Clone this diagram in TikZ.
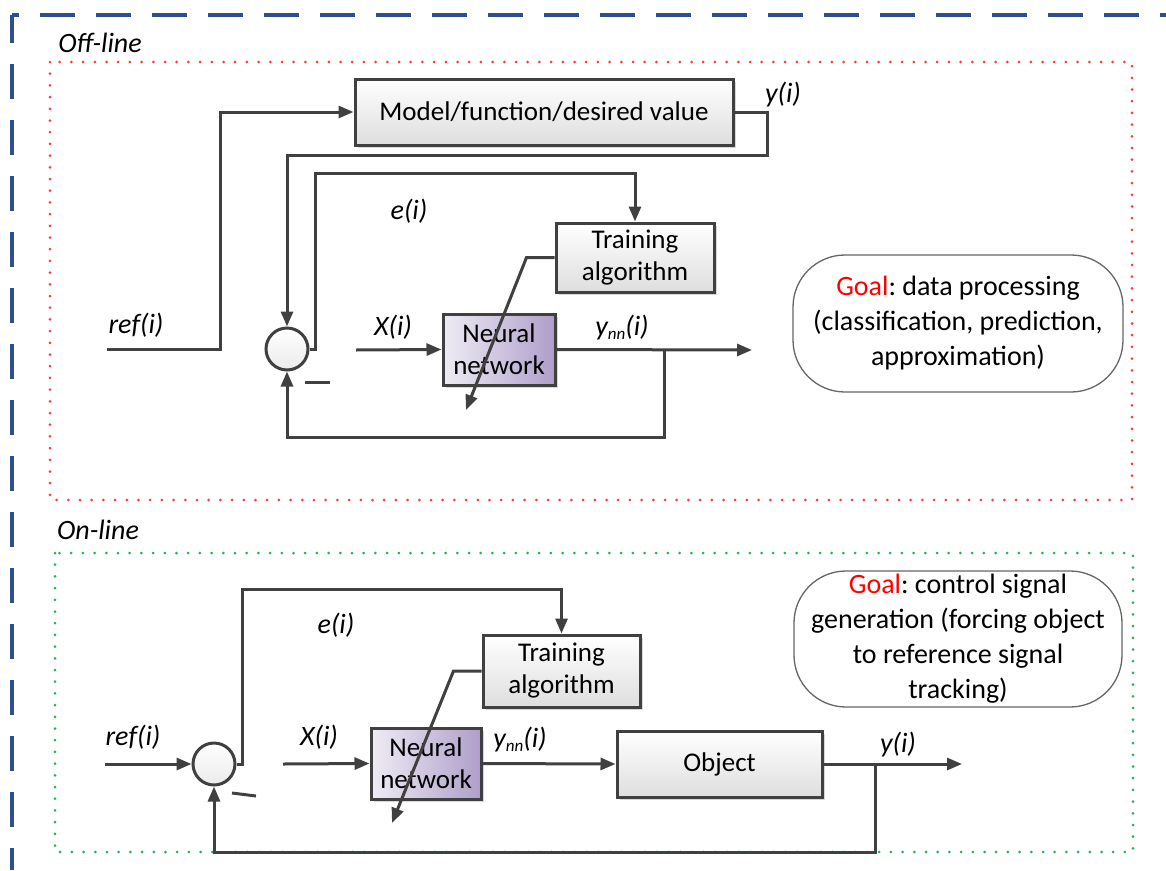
\documentclass[tikz,border=0pt]{standalone}
\usepackage{fontspec}
\setmainfont{Carlito}
\usetikzlibrary{arrows.meta,shadows}
\definecolor{ln}{RGB}{64,64,64}
\definecolor{bordblue}{RGB}{47,78,140}
\definecolor{nnpurple}{RGB}{175,158,202}
\definecolor{nnlight}{RGB}{238,236,244}
\definecolor{dotred}{RGB}{250,60,60}
\definecolor{dotgreen}{RGB}{40,175,95}
\definecolor{boxgray}{RGB}{222,222,222}
\begin{document}
\begin{tikzpicture}[x=1pt,y=-1pt,
  conn/.style={draw=ln,line width=3pt},
  arr/.style={conn,-{Triangle[length=15pt,width=12pt]}},
  blkbase/.style={draw=ln,line width=3pt,align=center,inner sep=0pt,
    drop shadow={shadow xshift=3pt,shadow yshift=-3pt,fill=black!30,opacity=0.5},
    font=\fontsize{27}{32}\selectfont},
  blk/.style={blkbase,top color=white,bottom color=boxgray},
  nnblk/.style={blkbase,left color=nnlight,right color=nnpurple},
  sum/.style={circle,draw=ln,line width=3pt,top color=white,bottom color=black!8,minimum size=42pt,inner sep=0pt},
  goal/.style={draw=black!60,line width=1.3pt,fill=white,rounded corners=52pt,align=center,inner sep=0pt,
    font=\fontsize{28}{35}\selectfont\frenchspacing},
  lbl/.style={font=\fontsize{28}{32}\selectfont\itshape,inner sep=0pt},
  dotframe/.style={line width=3pt,line cap=round,dash pattern=on 0pt off 11.7pt},
  bord/.style={draw=bordblue,line width=4pt,dash pattern=on 35pt off 21pt}
]
\useasboundingbox (0,0) rectangle (1166,870);
% outer dashed border
\draw[bord,dash phase=28pt] (12,15) -- (1166,15);
\draw[bord,dash phase=7pt] (12,15) -- (12,870);
% section frames
\node[lbl] (offlbl) at (100,43) {Off-line};
\node[lbl] (onlbl) at (98,530) {On-line};
\draw[dotred,dotframe] (50,62) rectangle (1132,500);
\draw[dotgreen,dotframe] (55,553) rectangle (1133,852);

% ---------- Off-line ----------
\node[blk,minimum width=378pt,minimum height=66pt] (model) at (544,112) {Model/function/desired value};
\node[blk,minimum width=158pt,minimum height=69pt] (train1) at (635,257.5) {Training\\algorithm};
\node[nnblk,minimum width=112pt,minimum height=71pt] (nn1) at (499,349.5) {Neural\\network};
\node[sum] (circ1) at (287,349) {};
\node[goal,minimum width=330pt,minimum height=137pt] (goal1) at (958,323.5)
  {{\color{red}Goal}: data processing\\(classification, prediction,\\approximation)};
\coordinate (ref1) at (107,349);
\coordinate (xin1) at (356,350);
\coordinate (out1) at (752,350);
\coordinate (fb1) at (664,350);
\coordinate (tip1) at (466,410);
\draw[arr] (ref1) -- ++(113,0) |- (model.west);
\draw[arr] (model.east) -- ++(33,0) -- ++(0,43) -| (circ1.north);
\draw[arr] (circ1.east) -- ++(6,0) -- ++(0,-176) -| (train1.north);
\draw[arr] (xin1) -- (nn1.west);
\draw[arr] (nn1.east) -- (out1);
\draw[arr] (fb1) -- ++(0,87) -| (circ1.south);
\draw[arr] (train1.west) -- ++(-28,0) -- (tip1);
\draw[conn] (305,382) -- (330,382);
\node[lbl] (refl1) at (136,325) {ref(i)};
\node[lbl] (el1) at (409,211) {e(i)};
\node[lbl] (xl1) at (393,327) {X(i)};
\node[lbl] (ynnl1) at (622,328) {y\raisebox{-4pt}{\fontsize{17}{17}\selectfont nn}(i)};
\node[lbl] (yl1) at (783,95) {y(i)};

% ---------- On-line ----------
\node[blk,minimum width=157pt,minimum height=72pt] (train2) at (561.5,671) {Training\\algorithm};
\node[nnblk,minimum width=110pt,minimum height=71pt] (nn2) at (426,763.5) {Neural\\network};
\node[blk,minimum width=205pt,minimum height=66pt] (obj) at (719.5,764) {Object};
\node[sum] (circ2) at (214,764) {};
\node[goal,minimum width=328pt,minimum height=136pt] (goal2) at (958,639)
  {{\color{red}Goal}: control signal\\generation (forcing object\\to reference signal\\tracking)};
\coordinate (ref2) at (105,764);
\coordinate (xin2) at (283,764);
\coordinate (out2) at (962,764);
\coordinate (fb2) at (875,764);
\coordinate (tip2) at (392,823);
\draw[arr] (ref2) -- (circ2.west);
\draw[arr] (circ2.east) -- ++(6,0) -- ++(0,-175) -| (train2.north);
\draw[arr] (xin2) -- (nn2.west);
\draw[arr] (nn2.east) -- (obj.west);
\draw[arr] (obj.east) -- (out2);
\draw[arr] (fb2) -- ++(0,88) -| (circ2.south);
\draw[arr] (train2.west) -- ++(-28,0) -- (tip2);
\draw[conn] (232,793) -- (256,796);
\node[lbl] (refl2) at (133,737) {ref(i)};
\node[lbl] (el2) at (336,625) {e(i)};
\node[lbl] (xl2) at (319,737) {X(i)};
\node[lbl] (ynnl2) at (520,740) {y\raisebox{-4pt}{\fontsize{17}{17}\selectfont nn}(i)};
\node[lbl] (yl2) at (898,745) {y(i)};
\end{tikzpicture}
\end{document}
